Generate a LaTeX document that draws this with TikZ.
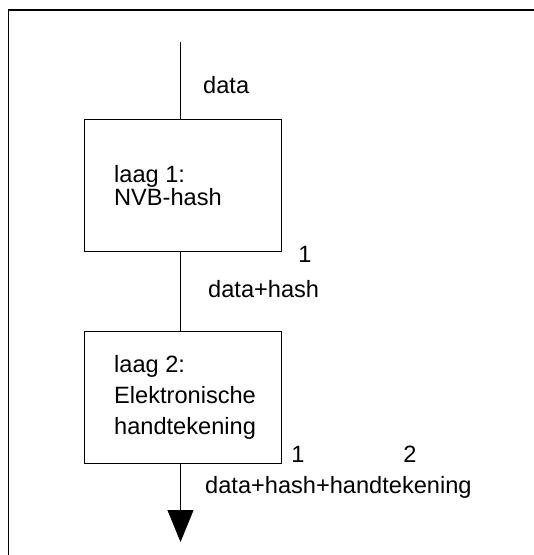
\documentclass[tikz,border=0pt]{standalone}
\usepackage{fontspec}
\setmainfont{Liberation Sans}
\usetikzlibrary{arrows.meta}
\begin{document}
\begin{tikzpicture}[x=1pt,y=-1pt,
  boxnode/.style={draw=black,line width=0.9pt,rectangle,minimum width=196.5pt,minimum height=132pt,inner sep=0pt},
  txt/.style={anchor=base west,inner sep=0pt,font=\fontsize{23.6}{27}\selectfont},
  conn/.style={line width=0.8pt}]
\useasboundingbox (0,0) rectangle (534,555);
\draw[line width=1.4pt] (534,10) -- (8.5,10) -- (8.5,555);
\node[boxnode] (box1) at (182.75,185) {};
\node[boxnode] (box2) at (182.75,397.5) {};
\coordinate (top) at (180.5,41.5);
\coordinate (tip) at (180.5,542);
\draw[conn] (top) -- (top |- box1.north);
\draw[conn] (box1.south -| top) -- (box2.north -| top);
\draw[conn,-{Triangle[width=26pt,length=32pt]}] (box2.south -| top) -- (tip);
\node[txt] (l1a) at (114,182) {laag 1:};
\node[txt] (l1b) at (114,205.5) {NVB-hash};
\node[txt] (l2a) at (114,372) {laag 2:};
\node[txt] (l2b) at (114,403) {Elektronische};
\node[txt] (l2c) at (114,434) {handtekening};
\node[txt] (d1) at (203,93) {data};
\node[txt,anchor=base] (n1) at (305,262) {1};
\node[txt] (d2) at (208,297) {data+hash};
\node[txt,anchor=base] (n2) at (298,462) {1};
\node[txt,anchor=base] (n3) at (410,462) {2};
\node[txt] (d3) at (205,493) {data+hash+handtekening};
\end{tikzpicture}
\end{document}
